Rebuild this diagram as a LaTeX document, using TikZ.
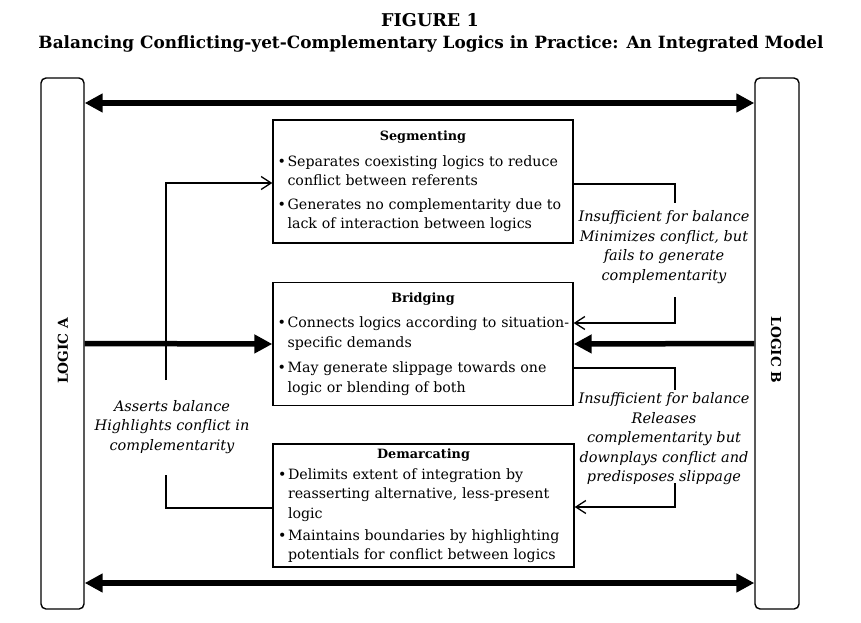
\documentclass[tikz,border=0pt]{standalone}
\usepackage{fontspec}
\setmainfont{DejaVu Serif}
\usetikzlibrary{arrows.meta}
\newcommand\bitem[1]{\par\hangindent=10pt\hangafter=1\noindent\makebox[10pt][l]{\textbullet}#1}
\newcommand\bxtitle[2]{{\centering\fontsize{12.8}{19.5}\selectfont\textbf{#1}\par}\vspace{#2}}
\begin{document}
\begin{tikzpicture}[x=1pt,y=-1pt,
  every node/.style={font=\fontsize{14.2}{19.5}\selectfont},
  col/.style={draw, rounded corners=5pt, line width=1.4pt, minimum width=43pt, minimum height=531pt, inner sep=0pt},
  stagebox/.style={draw, line width=1.4pt, minimum width=300pt, minimum height=123pt, text width=291pt, inner xsep=4.5pt, inner ysep=0pt, align=left},
  bigarrow/.style={line width=5.5pt, -{Triangle[length=18pt,width=18pt]}},
  bigarrows/.style={line width=5.5pt, {Triangle[length=18pt,width=18pt]}-{Triangle[length=18pt,width=18pt]}},
  link/.style={line width=1.3pt},
  linkarrow/.style={-{Straight Barb[length=10pt,width=13pt,line width=1.3pt]}},
  note/.style={font=\fontsize{14.5}{19.5}\selectfont\itshape, align=center, inner sep=0pt},
  ttl/.style={font=\bfseries\fontsize{#1}{20}\selectfont, inner sep=0pt}
]
\useasboundingbox (0,0) rectangle (861,623);
\fill[white] (0,0) rectangle (861,623);

\node[ttl=17.6] (fig) at (430,20) {FIGURE 1};
\node[ttl=16.9] (title) at (431,44) {Balancing Conflicting-yet-Complementary Logics in Practice: An Integrated Model};

\node[col] (colA) at (62.5,343.5) {};
\node[col, minimum width=44pt] (colB) at (777,343.5) {};
\node[font=\bfseries\fontsize{13.7}{15}\selectfont, rotate=90] (la) at (63,351) {LOGIC A};
\node[font=\bfseries\fontsize{13.7}{15}\selectfont, rotate=-90] (lb) at (776,350) {LOGIC B};

\node[stagebox] (seg) at (423,181.5) {%
  \bxtitle{Segmenting}{6pt}%
  \bitem{Separates coexisting logics to reduce\newline conflict between referents}\par\vspace{4pt}%
  \bitem{Generates no complementarity due to\newline lack of interaction between logics}\par};

\node[stagebox] (brid) at (423,344) {%
  \bxtitle{Bridging}{6pt}%
  \bitem{\mbox{Connects logics according to situation-}\newline specific demands}\par\vspace{6pt}%
  \bitem{May generate slippage towards one\newline logic or blending of both}\par};

\node[stagebox, minimum width=301pt] (dem) at (423.5,505.5) {%
  \bxtitle{Demarcating}{1.5pt}%
  \bitem{Delimits extent of integration by\newline reasserting alternative, less-present\newline logic}\par\vspace{2.5pt}%
  \bitem{Maintains boundaries by highlighting\newline potentials for conflict between logics}\par};

\node[note] (nl) at (172,427) {Asserts balance\\Highlights conflict in\\complementarity};
\node[note] (nr1) at (664,247) {Insufficient for balance\\Minimizes conflict, but\\fails to generate\\complementarity};
\node[note] (nr2) at (664,439) {Insufficient for balance\\Releases\\complementarity but\\downplays conflict and\\predisposes slippage};

\coordinate (L1) at (166,380);
\coordinate (L2) at (166,475);
\coordinate (R1) at (675,203);
\coordinate (R2) at (675,297);
\coordinate (R3) at (675,390);
\coordinate (R4) at (675,483);

\draw[bigarrows] ([yshift=240.5pt]colA.east) -- ([yshift=240.5pt]colB.west);
\draw[bigarrows] ([yshift=-239.5pt]colA.east) -- ([yshift=-239.5pt]colB.west);
\draw[bigarrow] (colA.east) -- (brid.west);
\draw[bigarrow] (colB.west) -- (brid.east);

\draw[link, linkarrow] (L1) |- ([yshift=-1.5pt]seg.west);
\draw[link] ([yshift=-2.5pt]dem.west) -| (L2);
\draw[link] ([yshift=-2.5pt]seg.east) -| (R1);
\draw[link, linkarrow] (R2) |- ([yshift=21pt]brid.east);
\draw[link] ([yshift=-24pt]brid.east) -| (R3);
\draw[link, linkarrow] (R4) |- ([yshift=-1.5pt]dem.east);
\end{tikzpicture}
\end{document}
